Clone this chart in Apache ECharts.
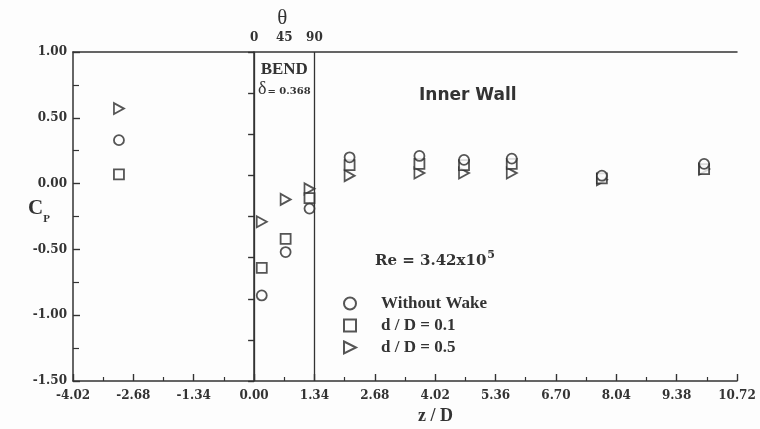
<!DOCTYPE html>
<html>
<head>
<meta charset="utf-8">
<script src="https://cdn.jsdelivr.net/npm/echarts@6/dist/echarts.min.js"></script>
<style>
  html, body { margin: 0; padding: 0; background: #fdfdfd; }
  #chart { width: 760px; height: 429px; }
</style>
</head>
<body>
<div id="chart"></div>
<script>
// Axial stations z/D along the inner wall (shared by all three cases)
const zOverD = [-3.0, 0.17, 0.70, 1.23, 2.12, 3.67, 4.66, 5.72, 7.72, 9.99];

// Pressure coefficient Cp at each station
const cpWithoutWake = [0.33, -0.85, -0.52, -0.19, 0.20, 0.21, 0.18, 0.19, 0.06, 0.15];
const cpD01 = [0.07, -0.64, -0.42, -0.11, 0.14, 0.15, 0.14, 0.15, 0.04, 0.11];
const cpD05 = [0.57, -0.29, -0.12, -0.04, 0.06, 0.08, 0.08, 0.08, 0.03, 0.11];

const seriesNames = ['Without Wake', 'd / D = 0.1', 'd / D = 0.5'];

// Bend limits and the bend angle scale on top
const bendStart = 0;
const bendEnd = 1.34;
const bendAngleValues = [0, 0.67, 1.34];
const bendAngleLabels = ['0', '45', '90'];

const ink = '#333333';
const serif = '"Liberation Serif", "DejaVu Serif", serif';
const wideSerif = '"DejaVu Serif", "Liberation Serif", serif';
const wideSans = '"DejaVu Sans", "Liberation Sans", sans-serif';

function pairs(cp) {
  return zOverD.map((z, i) => [z, cp[i]]);
}

const markerStyle = { color: '#fdfdfd', borderColor: '#2b2b2b', borderWidth: 1.8 };
const trianglePath = 'path://M0,0 L12,6 L0,12 Z';

const chart = echarts.init(document.getElementById('chart'), null, { renderer: 'canvas' });

chart.setOption({
  backgroundColor: '#fdfdfd',
  animation: false,
  grid: { left: 73, right: 23, top: 52, bottom: 48 },
  xAxis: [
    {
      type: 'value', position: 'bottom',
      min: -4.02, max: 10.72, interval: 1.34,
      axisLine: { show: true, onZero: false, lineStyle: { color: ink, width: 1.5 } },
      axisTick: { show: true, inside: true, length: 7, lineStyle: { color: ink, width: 1.4 } },
      minorTick: { show: true, splitNumber: 2, length: 4, lineStyle: { color: ink, width: 1.2 } },
      splitLine: { show: false },
      axisLabel: {
        margin: 9, color: ink, fontFamily: wideSerif, fontWeight: 'bold', fontSize: 12,
        formatter: v => v.toFixed(2)
      }
    },
    {
      type: 'value', position: 'top',
      min: -4.02, max: 10.72, interval: 0.67,
      axisLine: { show: true, onZero: false, lineStyle: { color: ink, width: 1.5 } },
      axisTick: { show: false },
      splitLine: { show: false },
      axisLabel: {
        margin: 8, color: ink, fontFamily: wideSerif, fontWeight: 'bold', fontSize: 12,
        formatter: v => {
          for (let i = 0; i < bendAngleValues.length; i++) {
            if (Math.abs(v - bendAngleValues[i]) < 0.01) return bendAngleLabels[i];
          }
          return '';
        }
      }
    }
  ],
  yAxis: [
    {
      type: 'value', position: 'left',
      min: -1.5, max: 1.0, interval: 0.5,
      axisLine: { show: true, onZero: false, lineStyle: { color: ink, width: 1.5 } },
      axisTick: { show: true, inside: true, length: 7, lineStyle: { color: ink, width: 1.4 } },
      minorTick: { show: true, splitNumber: 2, length: 6, lineStyle: { color: ink, width: 1.2 } },
      splitLine: { show: false },
      axisLabel: {
        margin: 6, color: ink, fontFamily: wideSerif, fontWeight: 'bold', fontSize: 12,
        formatter: v => v.toFixed(2)
      }
    },
    {
      type: 'value', position: 'right',
      min: 0, max: 8, interval: 1,
      axisLine: { show: true, lineStyle: { color: ink, width: 1.5 } },
      axisTick: { show: true, inside: true, length: 6, lineStyle: { color: ink, width: 1.4 } },
      splitLine: { show: false },
      axisLabel: { show: false }
    }
  ],
  legend: {
    orient: 'vertical',
    left: 338, top: 290,
    itemGap: 5, itemWidth: 12, itemHeight: 12,
    data: seriesNames,
    textStyle: {
      fontFamily: serif, fontWeight: 'bold', fontSize: 17, color: ink,
      padding: [0, 0, 0, 20]
    }
  },
  series: [
    {
      name: seriesNames[0], type: 'scatter',
      data: pairs(cpWithoutWake),
      symbol: 'circle', symbolSize: 10,
      itemStyle: markerStyle,
      z: 3,
      markLine: {
        silent: true, symbol: 'none', animation: false,
        label: { show: false },
        lineStyle: { color: ink, width: 1.3, type: 'solid' },
        data: [{ xAxis: bendStart }, { xAxis: bendEnd }]
      }
    },
    {
      name: seriesNames[1], type: 'scatter',
      data: pairs(cpD01),
      symbol: 'rect', symbolSize: 10,
      itemStyle: markerStyle,
      z: 2
    },
    {
      name: seriesNames[2], type: 'scatter',
      data: pairs(cpD05),
      symbol: trianglePath, symbolSize: [10, 11],
      itemStyle: markerStyle,
      z: 1
    }
  ]
});

// Annotations placed relative to the axis scales
const thetaX = chart.convertToPixel({ xAxisIndex: 0 }, bendAngleValues[1]);
const bendMidX = chart.convertToPixel({ xAxisIndex: 0 }, (bendStart + bendEnd) / 2);

chart.setOption({
  graphic: [
    {
      type: 'text', left: 28, top: 198,
      style: {
        text: '{c|C}{p|P}',
        rich: {
          c: { fontFamily: serif, fontSize: 21, fill: ink, fontWeight: 'bold', verticalAlign: 'bottom' },
          p: { fontFamily: serif, fontSize: 11, fill: ink, fontWeight: 'bold', verticalAlign: 'bottom', padding: [0, 0, -6, 0] }
        }
      }
    },
    {
      type: 'text', left: thetaX - 7, top: 8,
      style: { text: 'θ', fontFamily: serif, fontSize: 21, fill: ink }
    },
    {
      type: 'text', x: bendMidX, y: 61,
      style: { text: 'BEND', fontFamily: serif, fontWeight: 'bold', fontSize: 17, fill: ink, align: 'center' }
    },
    {
      type: 'text', x: bendMidX, y: 80,
      style: {
        text: '{d|δ}{v|= 0.368}', align: 'center',
        rich: {
          d: { fontFamily: serif, fontSize: 18, fill: ink },
          v: { fontFamily: wideSerif, fontSize: 10, fill: ink, fontWeight: 'bold', padding: [5, 0, 0, 1] }
        }
      }
    },
    {
      type: 'text', left: 419, top: 87,
      style: { text: 'Inner Wall', fontFamily: wideSans, fontWeight: 'bold', fontSize: 17, fill: ink }
    },
    {
      type: 'text', left: 375, top: 250,
      style: {
        text: '{m|Re = 3.42x10}{s|5}',
        rich: {
          m: { fontFamily: wideSerif, fontWeight: 'bold', fontSize: 15, fill: ink },
          s: { fontFamily: wideSerif, fontWeight: 'bold', fontSize: 11, fill: ink, padding: [0, 0, 12, 1] }
        }
      }
    },
    {
      type: 'text', left: 418, top: 407,
      style: { text: 'z / D', fontFamily: serif, fontWeight: 'bold', fontSize: 18, fill: ink }
    }
  ]
});
</script>
</body>
</html>
